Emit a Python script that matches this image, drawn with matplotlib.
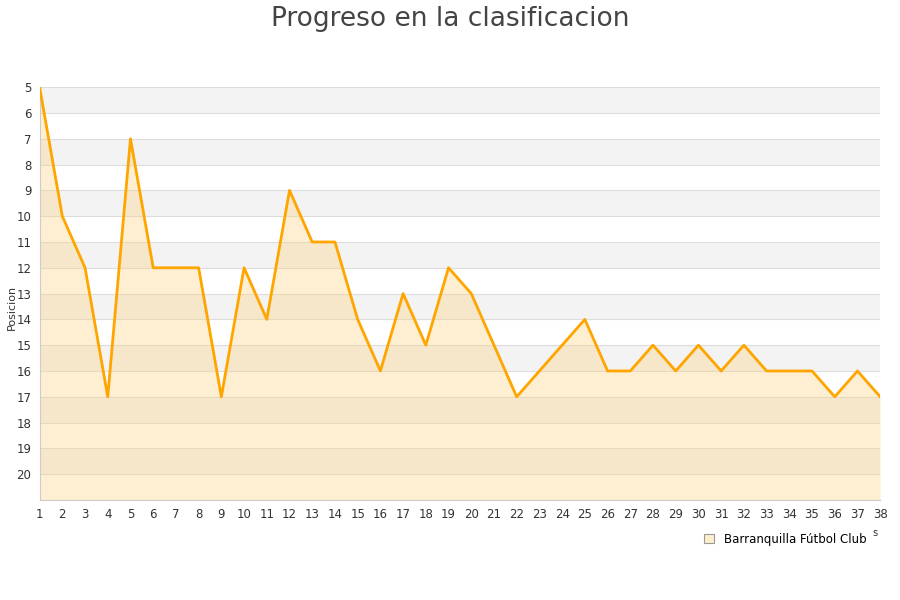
import matplotlib
matplotlib.use("Agg")
import matplotlib.pyplot as plt
from matplotlib.patches import Patch

# jornadas y posicion
jornadas = list(range(1, 39))
posicion = [5, 10, 12, 17, 7, 12, 12, 12, 17, 12,
            14, 9, 11, 11, 14, 16, 13, 15, 12, 13,
            15, 17, 16, 15, 14, 16, 16, 15, 16, 15,
            16, 15, 16, 16, 16, 17, 16, 17]
y_ticks = list(range(5, 21))
equipo = "Barranquilla Fútbol Club"

fig = plt.figure(figsize=(9, 6), dpi=100)
ax = fig.add_axes([0.044, 0.1667, 0.934, 0.688])

# bandas alternas
for y0 in range(5, 21, 2):
    ax.axhspan(y0, y0 + 1, color="#f3f3f3", zorder=0, lw=0)
for y in range(5, 22):
    ax.axhline(y, color="#dddddd", lw=0.8, zorder=1)

ax.fill_between(jornadas, posicion, 21, color="#ffd27f", alpha=0.35, lw=0, zorder=2)
ax.plot(jornadas, posicion, color="#ffa500", lw=2, zorder=3)

ax.set_xlim(1, 38)
ax.set_ylim(21, 5)
ax.set_xticks(jornadas)
ax.set_yticks(y_ticks)
ax.tick_params(axis="both", length=0, labelsize=8.5, colors="#333333", pad=6)
for s in ["top", "right"]:
    ax.spines[s].set_visible(False)
for s in ["left", "bottom"]:
    ax.spines[s].set_color("#cccccc")

fig.text(0.5, 0.99, "Progreso en la clasificacion", ha="center", va="top",
         fontsize=19, color="#444444")
fig.text(0.013, 0.488, "Posicion", rotation=90, ha="center", va="center",
         fontsize=8, color="#333333")
fig.text(0.972, 0.112, "s", ha="center", va="center", fontsize=7, color="#333333")

handle = Patch(facecolor="#ffeecc", edgecolor="#999999", lw=0.8)
fig.legend([handle], [equipo], loc="center", bbox_to_anchor=(0.873, 0.101),
           frameon=False, fontsize=8.5, handlelength=0.8, handleheight=0.8,
           handletextpad=0.9)

fig.savefig("out.png", dpi=100)
